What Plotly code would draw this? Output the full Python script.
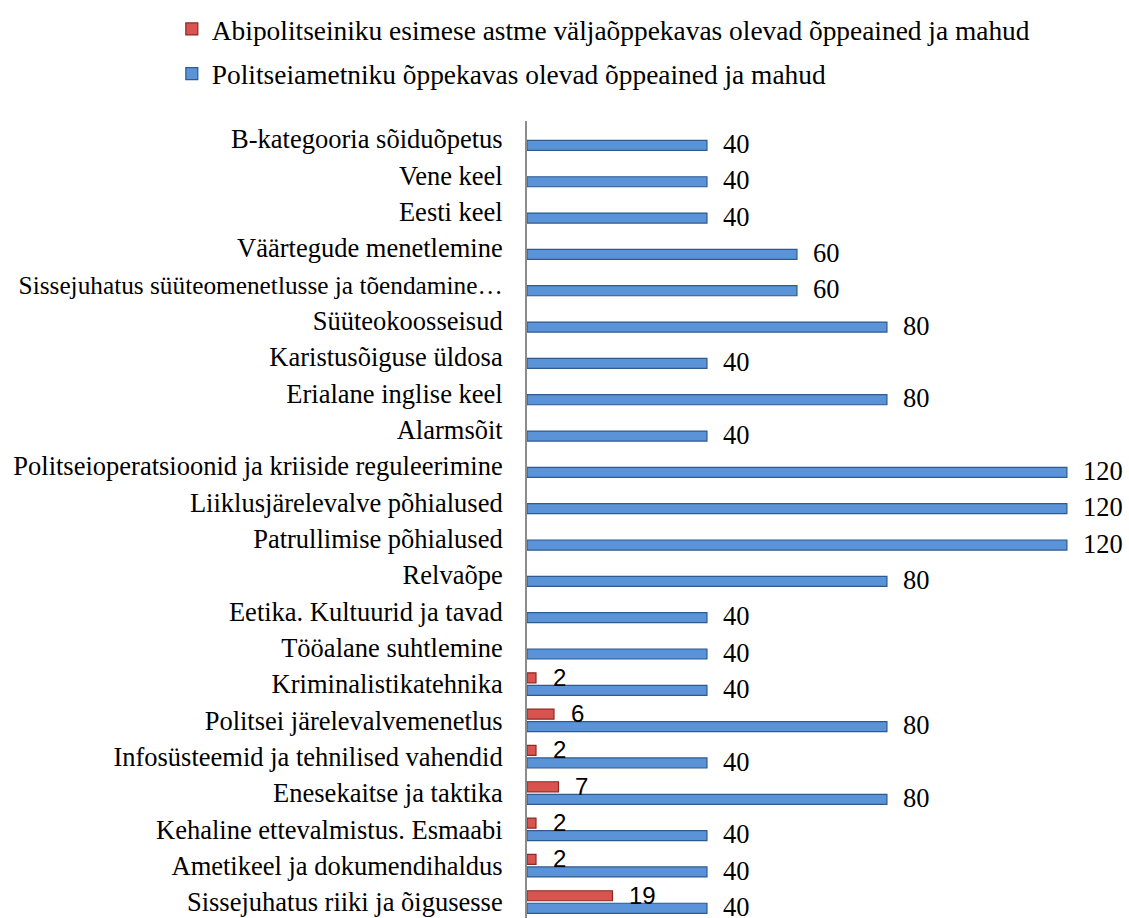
import plotly.graph_objects as go

categories = [
    "B-kategooria sõiduõpetus",
    "Vene keel",
    "Eesti keel",
    "Väärtegude menetlemine",
    "Sissejuhatus süüteomenetlusse ja tõendamine…",
    "Süüteokoosseisud",
    "Karistusõiguse üldosa",
    "Erialane inglise keel",
    "Alarmsõit",
    "Politseioperatsioonid ja kriiside reguleerimine",
    "Liiklusjärelevalve põhialused",
    "Patrullimise põhialused",
    "Relvaõpe",
    "Eetika. Kultuurid ja tavad",
    "Tööalane suhtlemine",
    "Kriminalistikatehnika",
    "Politsei järelevalvemenetlus",
    "Infosüsteemid ja tehnilised vahendid",
    "Enesekaitse ja taktika",
    "Kehaline ettevalmistus. Esmaabi",
    "Ametikeel ja dokumendihaldus",
    "Sissejuhatus riiki ja õigusesse",
]
politseiametnik = [40, 40, 40, 60, 60, 80, 40, 80, 40, 120, 120, 120, 80, 40, 40,
                   40, 80, 40, 80, 40, 40, 40]
abipolitseinik = [None] * 15 + [2, 6, 2, 7, 2, 2, 19]

name_red = "Abipolitseiniku esimese astme väljaõppekavas olevad õppeained ja mahud"
name_blue = "Politseiametniku õppekavas olevad õppeained ja mahud"

serif = "Liberation Serif, Times New Roman, serif"
sans = "Liberation Sans, Arial, sans-serif"

# the one long (truncated) label is drawn a touch smaller so it stays inside the page
tick_text = [
    f'<span style="font-size:25.3px">{c}</span>' if c.endswith("…") else c
    for c in categories
]

fig = go.Figure()
fig.add_trace(go.Bar(
    y=categories, x=abipolitseinik, orientation="h", name=name_red,
    legendgroup="a",
    marker=dict(color="#D9534F", line=dict(color="#8B2A27", width=1.2)),
))
fig.add_trace(go.Bar(
    y=categories, x=politseiametnik, orientation="h", name=name_blue,
    legendgroup="b",
    marker=dict(color="#5B93D8", line=dict(color="#2E5A8E", width=1.2)),
))

annotations = []
for c, v in zip(categories, politseiametnik):
    annotations.append(dict(x=v, y=c, xref="x", yref="y", text=str(v),
                            showarrow=False, xanchor="left", yanchor="middle",
                            xshift=14, yshift=-5,
                            font=dict(family=serif, size=26.5, color="#000000")))
for c, v in zip(categories, abipolitseinik):
    if v is None:
        continue
    annotations.append(dict(x=v, y=c, xref="x", yref="y", text=str(v),
                            showarrow=False, xanchor="left", yanchor="middle",
                            xshift=15, yshift=7,
                            font=dict(family=sans, size=24, color="#000000")))

fig.update_layout(
    width=1129, height=918,
    margin=dict(l=527, r=0, t=121, b=0, autoexpand=False),
    paper_bgcolor="white", plot_bgcolor="white",
    barmode="group", bargap=0.31, bargroupgap=0.2,
    font=dict(family=serif, size=26.5, color="#000000"),
    showlegend=True,
    legend=dict(x=-0.59, y=1.146, xanchor="left", yanchor="top",
                orientation="v", traceorder="grouped", tracegroupgap=6,
                font=dict(family=serif, size=27.4, color="#000000"),
                bgcolor="rgba(0,0,0,0)"),
    annotations=annotations,
    xaxis=dict(range=[0, 133.8], visible=False, showgrid=False, zeroline=False),
    yaxis=dict(range=[21.44, -0.5], showgrid=False, zeroline=False,
               showline=True, linecolor="#8C8C8C", linewidth=2,
               tickmode="array", tickvals=categories, ticktext=tick_text,
               ticks="", ticklabelstandoff=17, automargin=False,
               tickfont=dict(family=serif, size=26.5, color="#000000")),
)

fig.write_html("out.html", config={"displayModeBar": False},
               post_script="document.body.style.margin='0';document.body.style.padding='0';")
